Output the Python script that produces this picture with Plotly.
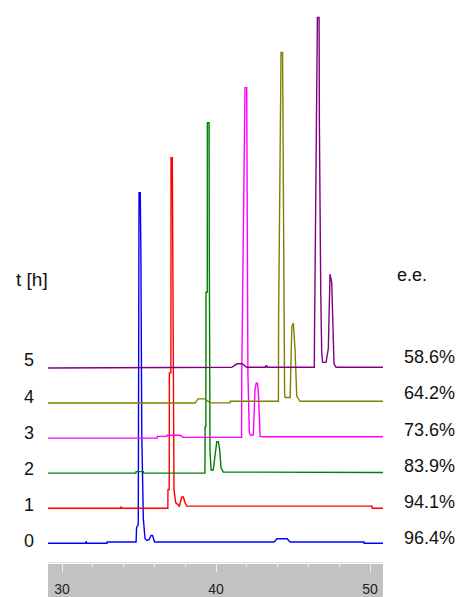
import plotly.graph_objects as go

# Chiral HPLC runs, sampled every hour (t [h]) with the resulting e.e.
RUN_HOURS = ["0", "1", "2", "3", "4", "5"]
EE_LABELS = ["96.4%", "94.1%", "83.9%", "73.6%", "64.2%", "58.6%"]
COLORS = ["#0000ff", "#ff0000", "#008000", "#ff00ff", "#808000", "#800080"]

# Retention time (min) and detector signal (major enantiomer peak = 100) for each run
T_0H = [28.5, 31.56, 31.57, 31.60, 32.92, 32.93, 34.81, 34.84, 34.95, 35.00, 35.08, 35.12,
        35.18, 35.28, 35.39, 35.52, 35.65, 35.78, 35.88, 36.01, 43.77, 43.96, 44.61, 44.81,
        49.61, 49.62, 51.0]
S_0H = [0, 0, 0.6, 0, 0, 0.35, 0.35, 4.5, 5.3, 100, 100, 83,
        30.5, 7.0, 1.3, 0.8, 1.0, 2.2, 2.2, 0.35, 0.35, 1.3, 1.3, 0.35,
        0.35, 0, 0]

T_1H = [26.15, 31.47, 31.48, 31.52, 34.52, 34.53, 34.61, 34.62, 34.72, 34.73, 34.81, 34.84,
        34.92, 35.03, 35.27, 35.42, 35.53, 35.64, 35.75, 47.78, 47.79, 48.65]
S_1H = [0, 0, 0.5, 0, 0, 5.3, 5.3, 38.6, 38.6, 100, 100, 79,
        5.3, 1.6, 0.6, 3.2, 3.2, 1.5, 0.6, 0.6, 0, 0]

T_2H = [23.80, 30.10, 30.11, 30.58, 30.59, 34.58, 34.59, 34.64, 34.65, 34.73, 34.74, 34.85,
        34.86, 34.91, 34.98, 35.12, 35.28, 35.35, 35.45, 35.54, 35.62, 35.77, 46.30]
S_2H = [0, 0, 0.45, 0.45, 0, 0, 13.2, 13.2, 51.6, 51.6, 100, 100,
        66, 6, 0.9, 0.9, 6.6, 9.0, 9.0, 6.6, 1.5, 0.3, 0.2]

T_3H = [21.45, 29.13, 29.14, 29.75, 29.76, 30.61, 30.81, 34.61, 34.62, 34.72, 34.83, 34.94,
        34.96, 35.02, 35.11, 35.19, 35.37, 35.48, 35.56, 35.64, 35.70, 35.81, 35.94, 43.95]
S_3H = [0, 0, 0.5, 0.5, 0.8, 0.8, 0.2, 0.2, 18.6, 56.4, 100, 100,
        63.5, 18.6, 1.6, 0.9, 0.9, 13.8, 15.7, 15.7, 12.9, 0.5, 0.4, 0.4]

T_4H = [19.10, 29.24, 29.43, 29.89, 30.21, 31.51, 31.52, 34.65, 34.66, 34.76, 34.82, 34.92,
        34.97, 35.05, 35.08, 35.41, 35.52, 35.62, 35.73, 35.84, 36.05, 41.60]
S_4H = [0, 0, 1.2, 1.2, 0.05, 0.05, 0.5, 0.5, 22.8, 80.5, 100, 100,
        42.2, 3.0, 1.6, 1.6, 21.8, 22.8, 15.2, 1.9, 0.5, 0.5]

T_5H = [16.75, 26.56, 29.27, 29.61, 29.94, 30.24, 31.46, 31.47, 31.56, 31.57, 34.63, 34.64,
        34.72, 34.83, 34.94, 34.96, 35.05, 35.11, 35.17, 35.39, 35.54, 35.61, 35.65, 35.76,
        35.83, 35.91, 36.04, 39.25]
S_5H = [0, 0.2, 0.2, 1.2, 1.2, 0.2, 0.2, 0.6, 0.6, 0.2, 0.2, 7.8,
        48.5, 100, 100, 69.4, 21.1, 4.5, 1.6, 1.6, 5.5, 20.1, 26.8, 24.4,
        11.6, 1.2, 0.2, 0.2]

RUNS = [(T_0H, S_0H), (T_1H, S_1H), (T_2H, S_2H), (T_3H, S_3H), (T_4H, S_4H), (T_5H, S_5H)]

# waterfall offsets between consecutive runs
X_SHIFT = 2.35   # min
Y_SHIFT = 10.0   # signal units

X_RANGE = [29.09, 50.84]
Y_RANGE = [-5.35, 155.0]

W, H = 460, 597
M_L, M_R, M_T, M_B = 48, 77, 0, 31
PLOT_H = H - M_T - M_B

fig = go.Figure()
for k, ((t, s), color) in enumerate(zip(RUNS, COLORS)):
    fig.add_trace(go.Scatter(
        x=[v + k * X_SHIFT for v in t],
        y=[v + k * Y_SHIFT for v in s],
        mode="lines",
        line=dict(color=color, width=1.4),
        hoverinfo="skip",
        showlegend=False,
    ))

TEXT_FONT = dict(family="Liberation Sans, Arial, sans-serif", size=18, color="#111111")
LABEL_STEP = 10.31  # vertical spacing of the row labels (signal units)

annotations = []
for k, (hour, ee) in enumerate(zip(RUN_HOURS, EE_LABELS)):
    annotations.append(dict(
        text=hour, xref="paper", yref="y", x=-0.0567, y=k * LABEL_STEP + 0.6,
        xanchor="center", yanchor="middle", showarrow=False, font=TEXT_FONT,
    ))
    annotations.append(dict(
        text=ee, xref="paper", yref="y", x=1.0567, y=k * LABEL_STEP + 1.5,
        xanchor="left", yanchor="middle", showarrow=False, font=TEXT_FONT,
    ))
annotations.append(dict(
    text="t [h]", xref="paper", yref="paper", x=-0.0478, y=(PLOT_H - 281) / PLOT_H,
    xanchor="center", yanchor="middle", showarrow=False,
    font=dict(TEXT_FONT, size=19),
))
annotations.append(dict(
    text="e.e.", xref="paper", yref="paper", x=1.0358, y=(PLOT_H - 277) / PLOT_H,
    xanchor="left", yanchor="middle", showarrow=False, font=TEXT_FONT,
))

# grey time-axis strip under the chromatograms
shapes = [dict(
    type="rect", xref="paper", yref="paper", x0=0, x1=1,
    y0=-M_B / PLOT_H - 0.01, y1=-2 / PLOT_H,
    fillcolor="#c2c2c2", line=dict(width=0), layer="below",
)]

fig.update_layout(
    width=W, height=H, autosize=False,
    margin=dict(l=M_L, r=M_R, t=M_T, b=M_B, pad=0),
    paper_bgcolor="white", plot_bgcolor="white",
    annotations=annotations, shapes=shapes,
    xaxis=dict(
        range=X_RANGE, showgrid=False, zeroline=False,
        showline=True, linecolor="#e4e4e4", linewidth=1,
        tickmode="linear", tick0=0, dtick=10,
        ticks="outside", ticklen=9, tickwidth=1, tickcolor="#f2f2f2",
        minor=dict(dtick=2, tick0=0, ticks="outside", ticklen=4, tickcolor="#f2f2f2", tickwidth=1),
        tickfont=dict(family="Liberation Sans, Arial, sans-serif", size=14, color="#222222"),
        ticklabelstandoff=5,
    ),
    yaxis=dict(range=Y_RANGE, visible=False, showgrid=False, zeroline=False),
)

fig.write_html("out.html")
